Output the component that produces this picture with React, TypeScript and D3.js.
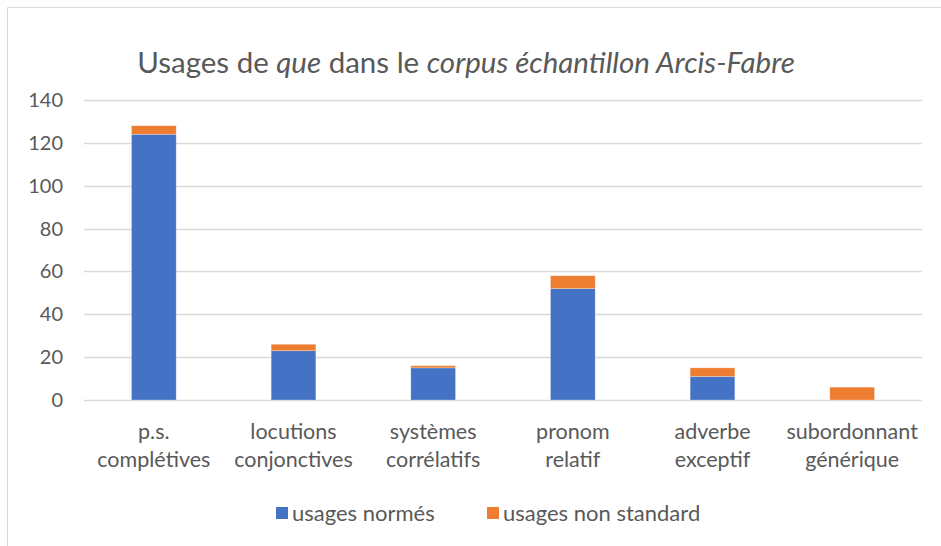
import React, { useRef, useEffect } from 'react';
import * as d3 from 'd3';

const categories = [
  ['p.s.', 'complétives'],
  ['locutions', 'conjonctives'],
  ['systèmes', 'corrélatifs'],
  ['pronom', 'relatif'],
  ['adverbe', 'exceptif'],
  ['subordonnant', 'générique'],
];
const normes = [124, 23, 15, 52, 11, 0];
const nonStandard = [4, 3, 1, 6, 4, 6];
const yTicks = [0, 20, 40, 60, 80, 100, 120, 140];
const seriesNames = ['usages normés', 'usages non standard'];
const colors = ['#4472C4', '#ED7D31'];

const W = 941;
const H = 546;
const FONT = 'Lato, "Liberation Sans", sans-serif';
const TEXT = '#595959';

const App = () => {
  const svgRef = useRef<SVGSVGElement | null>(null);

  useEffect(() => {
    if (!svgRef.current) return;
    const svg = d3.select(svgRef.current);
    svg.selectAll('*').remove();

    const margin = { top: 100, right: 19, bottom: 146, left: 84 };

    // chart frame (cut off on the right and bottom)
    svg.append('path')
      .attr('d', `M7.5,${H} V7.5 H${W}`)
      .attr('fill', 'none')
      .attr('stroke', '#D9D9D9')
      .attr('stroke-width', 1);

    // title
    const title = svg.append('text')
      .attr('x', 466)
      .attr('y', 73)
      .attr('text-anchor', 'middle')
      .attr('fill', TEXT)
      .style('font-family', FONT)
      .style('font-size', '29.5px');
    title.append('tspan').text('Usages de ');
    title.append('tspan').style('font-style', 'italic').text('que');
    title.append('tspan').text(' dans le ');
    title.append('tspan').style('font-style', 'italic').text('corpus échantillon Arcis-Fabre');

    const x = d3.scaleBand<number>()
      .domain(categories.map((_, i) => i))
      .range([margin.left, W - margin.right])
      .paddingInner(0.68)
      .paddingOuter(0.34);

    const y = d3.scaleLinear()
      .domain([0, 140])
      .range([H - margin.bottom, margin.top]);

    // grid
    svg.append('g')
      .selectAll('line')
      .data(yTicks)
      .enter()
      .append('line')
      .attr('x1', margin.left)
      .attr('x2', W - margin.right)
      .attr('y1', d => Math.round(y(d)) + 0.5)
      .attr('y2', d => Math.round(y(d)) + 0.5)
      .attr('stroke', '#D9D9D9')
      .attr('stroke-width', 1.3);

    // y labels
    svg.append('g')
      .selectAll('text')
      .data(yTicks)
      .enter()
      .append('text')
      .attr('x', 63)
      .attr('y', d => y(d))
      .attr('dy', '0.35em')
      .attr('text-anchor', 'end')
      .attr('fill', TEXT)
      .style('font-family', FONT)
      .style('font-size', '20px')
      .text(d => d);

    // stacked bars
    const stacked = categories.map((_, i) => [normes[i], nonStandard[i]]);
    const bars = svg.append('g');
    stacked.forEach((vals, i) => {
      let base = 0;
      vals.forEach((v, s) => {
        if (v > 0) {
          bars.append('rect')
            .attr('x', x(i)!)
            .attr('y', y(base + v))
            .attr('width', x.bandwidth())
            .attr('height', y(base) - y(base + v))
            .attr('fill', colors[s])
            .attr('stroke', '#ffffff')
            .attr('stroke-opacity', 0.35)
            .attr('stroke-width', 0.75);
        }
        base += v;
      });
    });

    // x labels
    const xl = svg.append('g');
    categories.forEach((lines, i) => {
      const t = xl.append('text')
        .attr('x', x(i)! + x.bandwidth() / 2)
        .attr('text-anchor', 'middle')
        .attr('fill', TEXT)
        .style('font-family', FONT)
        .style('font-size', '21.5px');
      lines.forEach((l, k) => {
        t.append('tspan')
          .attr('x', x(i)! + x.bandwidth() / 2)
          .attr('y', 439 + k * 28)
          .text(l);
      });
    });

    // legend
    const legendX = [276, 487];
    seriesNames.forEach((name, s) => {
      svg.append('rect')
        .attr('x', legendX[s])
        .attr('y', 507)
        .attr('width', 12)
        .attr('height', 12)
        .attr('fill', colors[s]);
      svg.append('text')
        .attr('x', legendX[s] + 16)
        .attr('y', 513)
        .attr('dy', '0.35em')
        .attr('fill', TEXT)
        .style('font-family', FONT)
        .style('font-size', '22px')
        .text(name);
    });
  }, []);

  return (
    <div style={{ position: 'absolute', left: 0, top: 0, background: '#fff' }}>
      <svg ref={svgRef} width={W} height={H} viewBox={`0 0 ${W} ${H}`} style={{ display: 'block' }} />
    </div>
  );
};

export default App;
